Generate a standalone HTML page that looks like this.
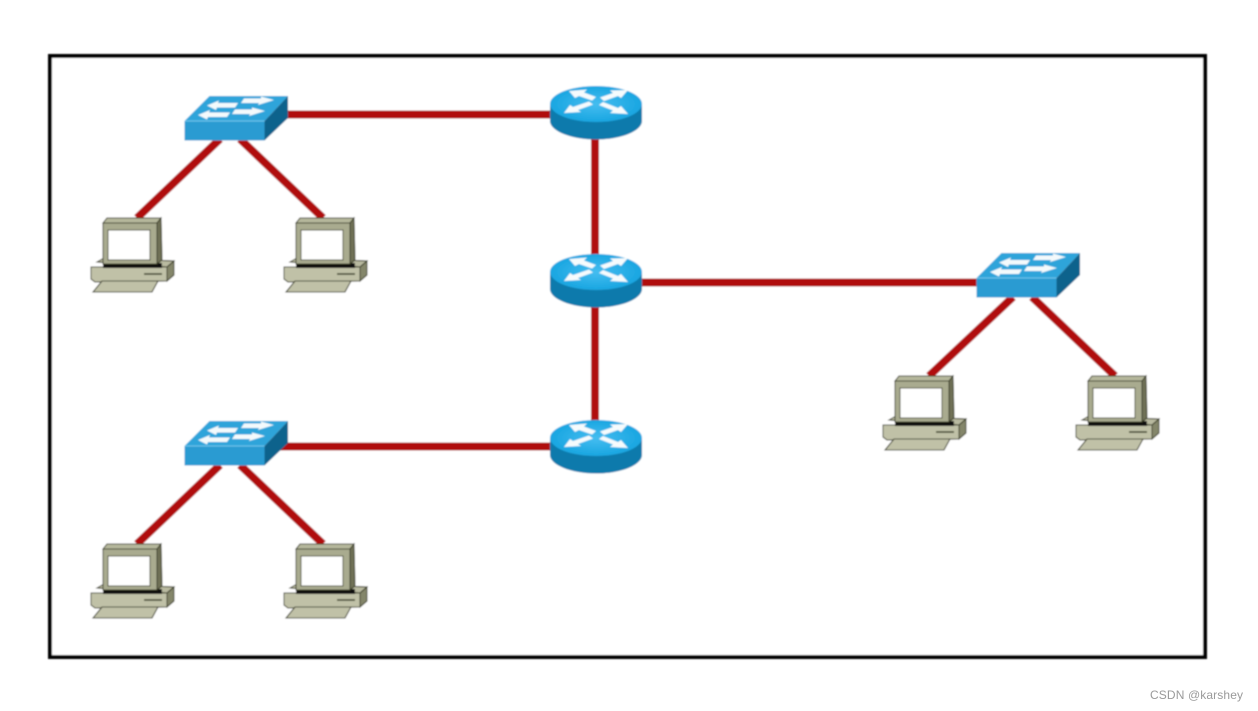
<!DOCTYPE html>
<html>
<head>
<meta charset="utf-8">
<style>
html,body{margin:0;padding:0;background:#fff;width:1258px;height:711px;overflow:hidden}
svg{display:block}
text{font-family:"Liberation Sans",sans-serif}
</style>
</head>
<body>
<svg width="1258" height="711" viewBox="0 0 1258 711" xmlns="http://www.w3.org/2000/svg">
<defs>
<filter id="b" x="-5%" y="-5%" width="110%" height="110%"><feGaussianBlur stdDeviation="0.7"/></filter>
<radialGradient id="tp" cx="50%" cy="50%" r="55%"><stop offset="0" stop-color="#45bdf0"/><stop offset="1" stop-color="#14a3df"/></radialGradient>
<g id="sw">
  <polygon points="184.5,121 209.5,96 288,96 264.5,121" fill="#2ea4da"/>
  <polygon points="184.5,121 264.5,121 264.5,140.500 184.5,140.500" fill="#2a9bd2"/>
  <polygon points="264.5,121 288,96 288,118 264.5,140.500" fill="#0b628c"/>
  <line x1="184.5" y1="121" x2="264.5" y2="121" stroke="#70c6ec" stroke-width="1"/>
  <g fill="#f4fafc">
    <polygon points="207,105.500 219,100.500 218,103 238,103 235,107.500 217,107.500 216,110"/>
    <polygon points="198,115 210,110 209,112.500 230,112.500 227,117 208,117 207,119.500"/>
    <polygon points="274,100 261,96.500 261,98.500 244,98.500 241,103 259,103 258,105"/>
    <polygon points="265,111 252,107.500 252,109.500 235,109.500 232,114 250,114 249,116"/>
  </g>
</g>
<g id="rt">
  <path d="M550,104 V121 C550,131 571,139.500 596,139.500 C621,139.500 642,131 642,121 V104 Z" fill="#0a7aac"/>
  <ellipse cx="596" cy="104" rx="46" ry="18" fill="url(#tp)"/>
  <g fill="#f6fbfd">
    <polygon points="569,91 587,89.500 584,92.500 596,97 592,100.500 579,96 575,98"/>
    <polygon points="628,90 610,90.500 613,93 600,97.500 604,101 618,96 621,98"/>
    <polygon points="564,113 570,105 573,107 589,101.500 593,104.500 578,110 581,112"/>
    <polygon points="628,114 621,106 618,108 603,102 599,105 613,110.500 610,113"/>
  </g>
</g>
<g id="pc">
  <polygon points="97,262 104,258 174,261 167,267" fill="#b9baa0" stroke="#33361f" stroke-width="1"/>
  <polygon points="91,267 167,267 167,281 95,282 91,279" fill="#c0c1a7" stroke="#33361f" stroke-width="1"/>
  <polygon points="167,267 174,261 174,275 167,281" fill="#84866a" stroke="#33361f" stroke-width="1"/>
  <line x1="144" y1="274" x2="162" y2="274" stroke="#33361f" stroke-width="1.6"/>
  <polygon points="102,281 158,281 152,292 93,292" fill="#c0c1a7" stroke="#33361f" stroke-width="1"/>
  <rect x="103" y="263" width="59" height="5" fill="#0e0e08"/>
  <polygon points="103,223 107,218 161,218 157,223" fill="#b5b79b" stroke="#33361f" stroke-width="1"/>
  <rect x="103" y="223" width="54" height="41" fill="#a9ab8f" stroke="#33361f" stroke-width="1"/>
  <polygon points="157,223 161,218 162,260 157,264" fill="#6f7157" stroke="#33361f" stroke-width="1"/>
  <rect x="108" y="230" width="42" height="30" fill="#fff" stroke="#44462f" stroke-width="1"/>
</g>
</defs>
<rect width="1258" height="711" fill="#fff"/>
<g filter="url(#b)">
  <rect x="50" y="56" width="1155" height="601" fill="#fff" stroke="#000" stroke-width="4"/>
  <g stroke="#b00a0e" stroke-width="8" fill="none">
    <line x1="285" y1="114.500" x2="552" y2="114.500"/>
    <line x1="280" y1="446.500" x2="552" y2="446.500"/>
    <line x1="642" y1="282.500" x2="980" y2="282.500"/>
    <line x1="595" y1="137" x2="595" y2="256"/>
    <line x1="595" y1="305" x2="595" y2="422"/>
    <line x1="220" y1="139" x2="137" y2="218"/>
    <line x1="240" y1="139" x2="323" y2="218"/>
    <line x1="220" y1="465" x2="137" y2="544"/>
    <line x1="240" y1="465" x2="323" y2="544"/>
    <line x1="1013" y1="297" x2="929" y2="376"/>
    <line x1="1032" y1="297" x2="1115" y2="376"/>
  </g>
  <use href="#sw"/>
  <use href="#sw" y="325"/>
  <use href="#sw" x="792" y="157"/>
  <use href="#rt"/>
  <use href="#rt" y="168"/>
  <use href="#rt" y="334"/>
  <use href="#pc"/>
  <use href="#pc" x="193"/>
  <use href="#pc" y="326"/>
  <use href="#pc" x="193" y="326"/>
  <use href="#pc" x="792" y="158"/>
  <use href="#pc" x="985" y="158"/>
</g>
<text x="1150" y="699" font-size="12" fill="#9a9a9a" textLength="93">CSDN @karshey</text>
</svg>
</body>
</html>
